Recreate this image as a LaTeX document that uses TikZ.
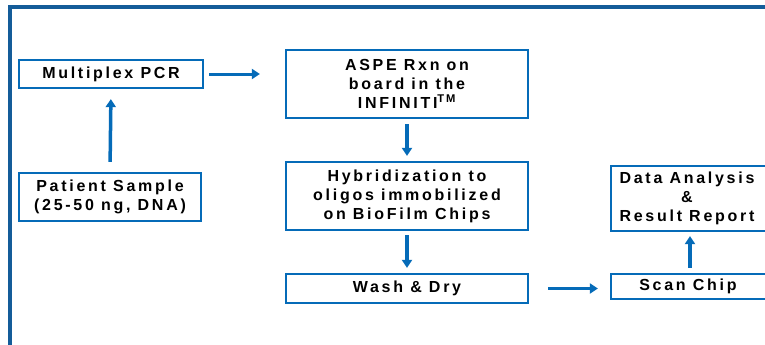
\documentclass[tikz,border=0pt]{standalone}
\usepackage{fontspec}
\usepackage{tikz}
\usetikzlibrary{arrows.meta}
\usetikzlibrary{positioning}
\newfontfamily\stepfont{Liberation Sans}[LetterSpace=17]
\definecolor{mblue}{rgb}{0.02, 0.42, 0.72}
\definecolor{fblue}{rgb}{0.08, 0.36, 0.60}
\tikzset{box/.style = {draw = mblue, line width = 2.2pt, rectangle, align = center,
                       inner sep = 0, font = \stepfont\bfseries\fontsize{16}{19}\selectfont}}
\tikzset{flow/.style = {draw = mblue, line width = 3.5pt,
                        -{Triangle[length = 8pt, width = 10pt]}}}

\begin{document}
\begin{tikzpicture}[x = 1pt, y = -1pt]
      \clip (0, 0) rectangle (765, 345);
      \draw [fblue, line width = 3.8pt] (10, 7) rectangle (820, 400);

      \node [box, minimum width = 184, minimum height = 28] (pcr) at (111, 74) {Multiplex PCR};
      \node [box, minimum width = 182, minimum height = 48] (patient) at (110, 197)
        {Patient Sample\\(25-50 ng, DNA)};
      \node [box, minimum width = 242, minimum height = 68] (aspe) at (407, 84)
        {ASPE Rxn on\\board in the\\INFINITI\textsuperscript{TM}};
      \node [box, minimum width = 242, minimum height = 68] (hyb) at (407, 196)
        {Hybridization to\\oligos immobilized\\on BioFilm Chips};
      \node [box, minimum width = 242, minimum height = 29] (wash) at (407, 288.5) {Wash \& Dry};
      \node [box, minimum width = 200, minimum height = 65] (data) at (711, 198.5)
        {\begin{tabular}{@{}c@{}}Data Analysis\\\&\\Result Report\end{tabular}\hspace*{48pt}};
      \node [box, minimum width = 200, minimum height = 25] (scan) at (711, 286.5)
        {Scan Chip\hspace*{46pt}};

      \draw [flow, shorten < = 10pt, shorten > = 10pt] (patient.north) -- (pcr.south);
      \draw [flow, line width = 3pt, shorten < = 5pt, shorten > = 25pt] (pcr.east) -- (aspe.west |- pcr.east);
      \draw [flow, shorten < = 5pt, shorten > = 5pt] (aspe.south) -- (hyb.north);
      \draw [flow, shorten < = 4pt, shorten > = 5pt] (hyb.south) -- (wash.north);
      \draw [flow, line width = 3pt, shorten < = 19pt, shorten > = 12pt] (wash.east) -- (wash.east -| scan.west);
      \draw [flow, shorten < = 5pt, shorten > = 4pt] ([xshift = -21pt]scan.north) -- ([xshift = -21pt]data.south);
    \end{tikzpicture}
\end{document}
